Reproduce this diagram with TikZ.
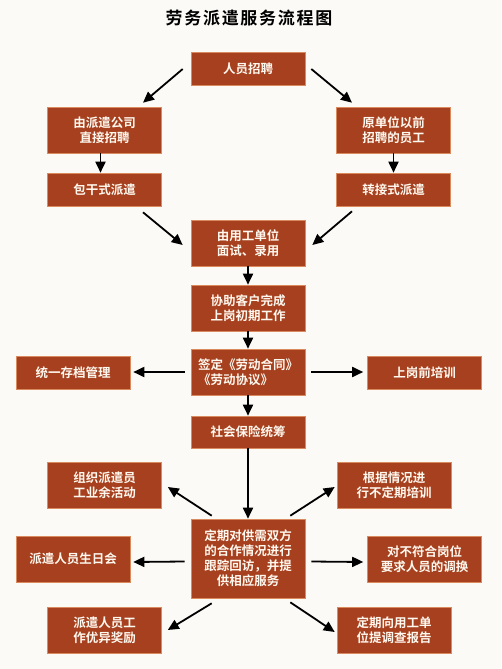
\documentclass[tikz,border=0pt]{standalone}
\usepackage{fontspec}
\newfontfamily\cjk{Noto Sans CJK SC}[BoldFont={Noto Sans CJK SC Bold}]
\usetikzlibrary{arrows.meta}
\definecolor{boxred}{HTML}{A6401F}
\definecolor{boxedge}{HTML}{D98A5E}
\definecolor{bgcream}{HTML}{FCFAF6}
\definecolor{txtwhite}{HTML}{FFF8EE}
\tikzset{
  box/.style={fill=boxred, draw=boxedge, line width=0.6pt, text=txtwhite,
    font=\cjk\bfseries\fontsize{12.5}{15}\selectfont, align=center,
    inner sep=0pt, minimum width=114pt, minimum height=46pt},
  lowbox/.style={box, minimum height=33pt},
  arr/.style={draw=black, line width=1.8pt, -{Triangle[length=11pt,width=10pt]}},
}
\begin{document}
\begin{tikzpicture}[x=1pt,y=-1pt]
\fill[bgcream] (0,0) rectangle (501,669);
\useasboundingbox (0,0) rectangle (501,669);

\node[font=\cjk\bfseries\fontsize{17}{20}\selectfont\addfontfeatures{LetterSpace=10}] (title) at (249,18) {劳务派遣服务流程图};

\node[lowbox] (recruit) at (248,69) {人员招聘};
\node[box] (direct) at (104.5,130) {由派遣公司\\直接招聘};
\node[box] (orig) at (393.5,130) {原单位以前\\招聘的员工};
\node[lowbox] (baogan) at (104.5,189.5) {包干式派遣};
\node[lowbox] (zhuan) at (393.5,189.5) {转接式派遣};
\node[box] (interview) at (248,243) {由用工单位\\面试、录用};
\node[box] (assist) at (248,308) {协助客户完成\\上岗初期工作};
\node[box, align=left] (sign) at (248,372) {签定《劳动合同》\\《劳动协议》};
\node[lowbox] (archive) at (73,372.5) {统一存档管理};
\node[lowbox] (pretrain) at (424.5,372.5) {上岗前培训};
\node[lowbox, minimum height=32pt] (social) at (248,432) {社会保险统筹};
\node[box] (activity) at (104.5,485) {组织派遣员\\工业余活动};
\node[box] (train) at (394,485) {根据情况进\\行不定期培训};
\node[box, minimum height=79pt] (center) at (248,558.5) {定期对供需双方\\的合作情况进行\\跟踪回访，并提\\供相应服务};
\node[box] (birthday) at (73,559) {派遣人员生日会};
\node[box] (swap) at (424.5,559) {对不符合岗位\\要求人员的调换};
\node[box] (reward) at (104.5,630) {派遣人员工\\作优异奖励};
\node[box] (report) at (394,630) {定期向用工单\\位提调查报告};

\draw[arr] ([xshift=-8pt]recruit.west) -- ([xshift=38.5pt,yshift=4pt]direct.north);
\draw[arr] ([xshift=6pt]recruit.east) -- ([xshift=-41.5pt,yshift=4pt]orig.north);
\draw[arr] ([xshift=-4pt]direct.south) -- ([xshift=-4pt]baogan.north);
\draw[arr] (orig.south) -- (zhuan.north);
\draw[arr] ([xshift=38.5pt,yshift=-6pt]baogan.south) -- ([xshift=-8pt,yshift=-2pt]interview.west);
\draw[arr] ([xshift=-41.5pt,yshift=-5pt]zhuan.south) -- ([xshift=7pt,yshift=-2pt]interview.east);
\draw[arr] (interview.south) -- (assist.north);
\draw[arr] (assist.south) -- (sign.north);
\draw[arr] ([xshift=-6pt]sign.west) -- ([xshift=3pt,yshift=0.5pt]archive.east);
\draw[arr] ([xshift=6pt]sign.east) -- ([xshift=-4pt,yshift=0.5pt]pretrain.west);
\draw[arr] (sign.south) -- (social.north);
\draw[arr] (social.south) -- (center.north);
\draw[arr] ([xshift=21pt,yshift=3pt]center.north west) -- ([xshift=6pt,yshift=-2pt]activity.east);
\draw[arr] ([xshift=-15pt,yshift=3pt]center.north east) -- ([xshift=-2pt,yshift=-2pt]train.west);
\draw[arr] ([xshift=-6pt,yshift=-3pt]center.west) -- ([xshift=3pt,yshift=-3pt]birthday.east);
\draw[arr] ([xshift=6pt,yshift=-3pt]center.east) -- ([xshift=-4pt,yshift=-3pt]swap.west);
\draw[arr] ([xshift=21pt,yshift=-5pt]center.south west) -- ([xshift=6pt]reward.east);
\draw[arr] ([xshift=-15pt,yshift=-4pt]center.south east) -- ([xshift=-2pt,yshift=-2pt]report.west);
\end{tikzpicture}
\end{document}
